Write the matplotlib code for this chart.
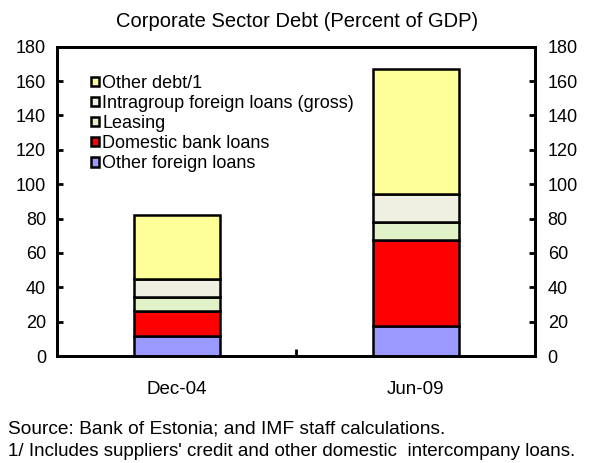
import matplotlib
matplotlib.use('Agg')
import matplotlib.pyplot as plt
import numpy as np

plt.rcParams['font.family'] = ['Liberation Sans', 'DejaVu Sans']

# Daten
perioden = ['Dec-04', 'Jun-09']
serien = ['Other foreign loans', 'Domestic bank loans', 'Leasing',
          'Intragroup foreign loans (gross)', 'Other debt/1']
other_foreign = [11.7, 17.7]
domestic_bank = [14.5, 49.9]
leasing = [8.2, 10.7]
intragroup = [10.3, 15.9]
other_debt = [37.3, 72.8]
farben = ['#9999FF', '#FF0000', '#E2F2C8', '#F0F0E2', '#FFFF99']

werte = [other_foreign, domestic_bank, leasing, intragroup, other_debt]

fig = plt.figure(figsize=(5.94, 4.63), dpi=100)
ax = fig.add_axes([0.096, 0.231, 0.805, 0.668])

x = np.arange(len(perioden))
boden = np.zeros(len(perioden))
for name, w, f in zip(serien, werte, farben):
    ax.bar(x, w, 0.36, bottom=boden, color=f, edgecolor='black',
           linewidth=1.8, label=name, zorder=3)
    boden += np.array(w)

ax.set_xlim(-0.5, 1.5)
ax.set_ylim(0, 180)
ax.set_yticks(range(0, 181, 20))
ax.set_xticks([0.5])
ax.set_xticklabels([''])
ax.set_xticks(x, minor=True)
ax.set_xticklabels(perioden, minor=True, fontsize=13.5)
ax.tick_params(axis='x', which='minor', length=0, pad=18)
ax.tick_params(axis='x', which='major', direction='in', length=5, width=2)
ax.tick_params(axis='y', direction='in', length=4, width=2, labelsize=13, pad=8)
for s in ax.spines.values():
    s.set_linewidth(2)

ax2 = ax.twinx()
ax2.set_ylim(0, 180)
ax2.set_yticks(range(0, 181, 20))
ax2.tick_params(axis='y', direction='in', length=4, width=2, labelsize=13, pad=9)
for s in ax2.spines.values():
    s.set_linewidth(2)

h, l = ax.get_legend_handles_labels()
ax.legend(h[::-1], l[::-1], loc='upper left', bbox_to_anchor=(0.045, 0.95),
          frameon=False, fontsize=13, handlelength=0.45, handleheight=0.45,
          handletextpad=0.15, labelspacing=0.17, borderaxespad=0.3)

fig.text(0.5, 0.942, 'Corporate Sector Debt (Percent of GDP)', ha='center',
         fontsize=14.5)
fig.text(0.013, 0.063, 'Source: Bank of Estonia; and IMF staff calculations.',
         fontsize=13.8)
fig.text(0.013, 0.016, "1/ Includes suppliers' credit and other domestic  intercompany loans.",
         fontsize=13.5)

plt.savefig('out.png', dpi=100)
